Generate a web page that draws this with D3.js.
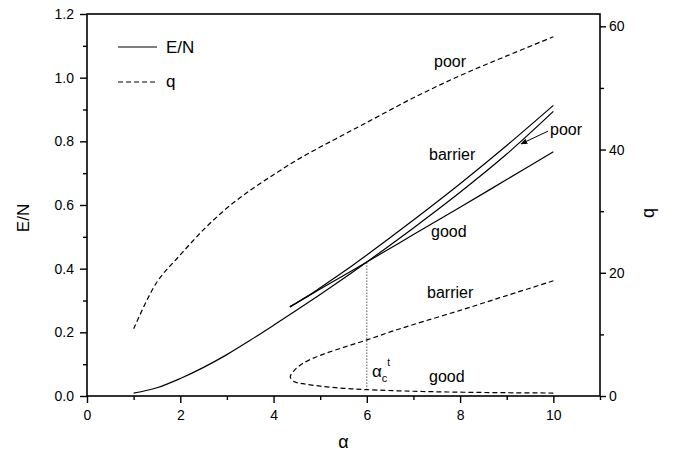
<!DOCTYPE html>
<html>
<head>
<meta charset="utf-8">
<script src="https://cdn.jsdelivr.net/npm/d3@7"></script>
<style>
  body { margin: 0; background: #fff; }
  svg { display: block; font-family: "Liberation Sans", Arial, sans-serif; }
  .tick text { font-size: 14px; fill: #000; }
  .tick line { stroke: #000; stroke-width: 1.4; }
</style>
</head>
<body>
<div id="chart"></div>
<script>
// E/N curves (left axis)
const alphaPoorE = [1, 1.5, 2, 2.5, 3, 3.5, 4, 4.5, 5, 5.5, 6, 7, 8, 9, 10];
const energyPoor = [0.009, 0.026, 0.055, 0.090, 0.130, 0.175, 0.222, 0.270, 0.319, 0.369, 0.421, 0.528, 0.640, 0.760, 0.894];
const alphaGoodE = [4.35, 5, 6, 7, 8, 9, 10];
const energyGood = [0.280, 0.336, 0.421, 0.507, 0.593, 0.680, 0.767];
const alphaBarrierE = [4.35, 4.7, 5, 5.5, 6, 7, 8, 9, 10];
const energyBarrier = [0.280, 0.311, 0.340, 0.390, 0.443, 0.553, 0.667, 0.787, 0.913];

// q curves (right axis)
const alphaPoorQ = [1, 1.5, 2, 2.5, 3, 3.5, 4, 4.5, 5, 5.5, 6, 7, 8, 9, 10];
const qPoor = [10.9, 18.5, 22.9, 27.0, 30.5, 33.4, 35.9, 38.3, 40.4, 42.4, 44.4, 48.4, 52.0, 55.2, 58.3];
const alphaBarrierQ = [4.36, 4.45, 4.63, 5, 5.5, 6, 6.5, 7, 8, 9, 10];
const qBarrier = [3.1, 4.2, 5.3, 6.6, 7.9, 9.1, 10.4, 11.6, 13.9, 16.3, 18.7];
const alphaGoodQ = [4.36, 4.45, 4.63, 5, 5.5, 6, 7, 8, 9, 10];
const qGood = [3.1, 2.3, 2.0, 1.6, 1.25, 1.03, 0.77, 0.62, 0.53, 0.48];

const alphaTransition = 6;
const xTicks = [0, 2, 4, 6, 8, 10];
const xMinor = [1, 3, 5, 7, 9, 11];
const yTicks = [0, 0.2, 0.4, 0.6, 0.8, 1.0, 1.2];
const yMinor = [0.1, 0.3, 0.5, 0.7, 0.9, 1.1];
const qTicks = [0, 20, 40, 60];
const qMinor = [10, 30, 50];

const width = 681, height = 453;
const margin = {top: 14, right: 81, bottom: 57, left: 87};
const plotW = width - margin.left - margin.right;
const plotH = height - margin.top - margin.bottom;

const svg = d3.select("#chart").append("svg")
    .attr("width", width)
    .attr("height", height);

const g = svg.append("g")
    .attr("transform", `translate(${margin.left},${margin.top})`);

const x = d3.scaleLinear().domain([0, 11]).range([0, plotW]);
const y = d3.scaleLinear().domain([0, 1.2]).range([plotH, 0]);
const yq = d3.scaleLinear().domain([0, 62]).range([plotH, 0]);

// axes, major and minor ticks
function addAxis(axis, transform) {
    let a = g.append("g").attr("transform", transform).call(axis);
    a.select(".domain").remove();
    return a;
}
addAxis(d3.axisBottom(x).tickValues(xTicks).tickFormat(d3.format("d")).tickSize(7).tickPadding(7), `translate(0,${plotH})`);
addAxis(d3.axisBottom(x).tickValues(xMinor).tickFormat("").tickSize(4), `translate(0,${plotH})`);
addAxis(d3.axisLeft(y).tickValues(yTicks).tickFormat(d3.format(".1f")).tickSize(7).tickPadding(6), null);
addAxis(d3.axisLeft(y).tickValues(yMinor).tickFormat("").tickSize(4), null);
addAxis(d3.axisRight(yq).tickValues(qTicks).tickFormat(d3.format("d")).tickSize(6).tickPadding(3), `translate(${plotW},0)`);
addAxis(d3.axisRight(yq).tickValues(qMinor).tickFormat("").tickSize(4), `translate(${plotW},0)`);

// frame
g.append("rect")
    .attr("width", plotW)
    .attr("height", plotH)
    .attr("fill", "none")
    .attr("stroke", "#000")
    .attr("stroke-width", 1.6);

// curves
const lineE = d3.line().x(d => x(d[0])).y(d => y(d[1])).curve(d3.curveCatmullRom);
const lineQ = d3.line().x(d => x(d[0])).y(d => yq(d[1])).curve(d3.curveCatmullRom);

function drawCurve(gen, xs, ys, dashed) {
    g.append("path")
        .datum(d3.zip(xs, ys))
        .attr("d", gen)
        .attr("fill", "none")
        .attr("stroke", "#000")
        .attr("stroke-width", 1.2)
        .attr("stroke-dasharray", dashed ? "5,3" : null);
}

drawCurve(lineE, alphaPoorE, energyPoor, false);
drawCurve(lineE, alphaGoodE, energyGood, false);
drawCurve(lineE, alphaBarrierE, energyBarrier, false);

drawCurve(lineQ, alphaPoorQ, qPoor, true);
// good + barrier q form one C-shaped curve through the spinodal point
drawCurve(lineQ, alphaGoodQ.slice().reverse().concat(alphaBarrierQ.slice(1)),
          qGood.slice().reverse().concat(qBarrier.slice(1)), true);

// dotted line at the transition
const qAtT = qGood[alphaGoodQ.indexOf(alphaTransition)];
const eAtT = energyGood[alphaGoodE.indexOf(alphaTransition)];
g.append("line")
    .attr("x1", x(alphaTransition)).attr("x2", x(alphaTransition))
    .attr("y1", yq(qAtT)).attr("y2", y(eAtT))
    .attr("stroke", "#000")
    .attr("stroke-width", 1)
    .attr("stroke-dasharray", "1,2");

// arrow pointing to the poor branch
svg.append("defs").append("marker")
    .attr("id", "head")
    .attr("viewBox", "0 0 10 10")
    .attr("refX", 9).attr("refY", 5)
    .attr("markerWidth", 7).attr("markerHeight", 7)
    .attr("markerUnits", "userSpaceOnUse")
    .attr("orient", "auto")
    .append("path")
    .attr("d", "M0,1 L10,5 L0,9 Z")
    .attr("fill", "#000");

g.append("line")
    .attr("x1", x(9.885)).attr("y1", y(0.832))
    .attr("x2", x(9.306)).attr("y2", y(0.792))
    .attr("stroke", "#000")
    .attr("stroke-width", 1)
    .attr("marker-end", "url(#head)");

// curve labels
function label(txt, px, py) {
    svg.append("text")
        .attr("x", px).attr("y", py)
        .attr("font-size", 16)
        .text(txt);
}
label("poor", 434, 67);
label("poor", 550, 135);
label("barrier", 429, 160);
label("good", 431, 237);
label("barrier", 427, 298);
label("good", 429, 382);

// alpha_c^t
const ac = svg.append("text").attr("x", 372).attr("y", 377).attr("font-size", 17);
ac.append("tspan").text("α");
ac.append("tspan").attr("font-size", 11).attr("dy", 5).text("c");
ac.append("tspan").attr("font-size", 10).attr("dy", -16).attr("dx", 0).text("t");

// legend
const legend = svg.append("g");
legend.append("line")
    .attr("x1", 118).attr("x2", 157).attr("y1", 47).attr("y2", 47)
    .attr("stroke", "#000").attr("stroke-width", 1.2);
legend.append("text").attr("x", 166).attr("y", 53).attr("font-size", 17).text("E/N");
legend.append("line")
    .attr("x1", 118).attr("x2", 157).attr("y1", 82).attr("y2", 82)
    .attr("stroke", "#000").attr("stroke-width", 1.2)
    .attr("stroke-dasharray", "5,3");
legend.append("text").attr("x", 166).attr("y", 87).attr("font-size", 17).text("q");

// axis titles
svg.append("text")
    .attr("transform", "translate(29,218) rotate(-90)")
    .attr("text-anchor", "middle")
    .attr("font-size", 17)
    .text("E/N");
svg.append("text")
    .attr("transform", "translate(654,213) rotate(-90)")
    .attr("text-anchor", "middle")
    .attr("font-size", 18)
    .text("q");
svg.append("text")
    .attr("x", margin.left + plotW / 2)
    .attr("y", 448)
    .attr("text-anchor", "middle")
    .attr("font-size", 18)
    .text("α");
</script>
</body>
</html>
